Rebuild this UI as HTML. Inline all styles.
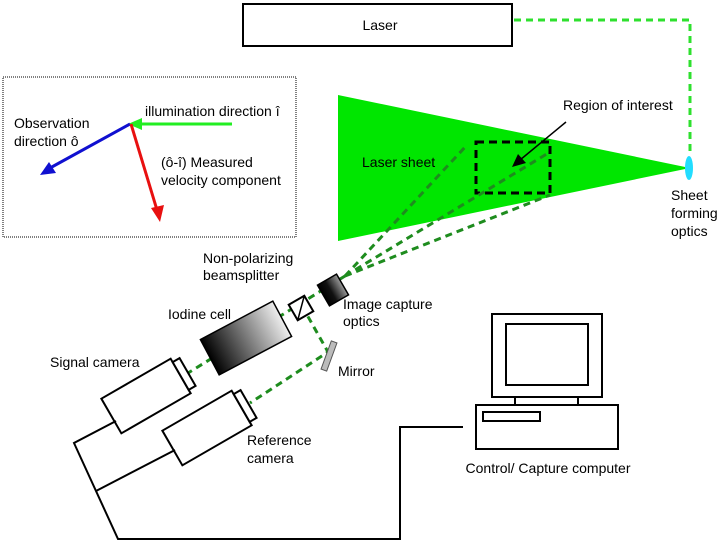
<!DOCTYPE html>
<html><head><meta charset="utf-8"><style>
html,body{margin:0;padding:0;background:#fff;}
svg{display:block;font-family:"Liberation Sans",sans-serif;font-size:14px;}
</style></head><body>
<svg width="720" height="542" viewBox="0 0 720 542" xmlns="http://www.w3.org/2000/svg">
<defs>
<linearGradient id="ic" x1="0" y1="0" x2="1" y2="0"><stop offset="0" stop-color="#000"/><stop offset="1" stop-color="#eee"/></linearGradient>
<linearGradient id="io" x1="0" y1="0" x2="1" y2="0"><stop offset="0" stop-color="#000"/><stop offset="0.4" stop-color="#111"/><stop offset="1" stop-color="#999"/></linearGradient>
</defs>
<rect x="243" y="4" width="269" height="42" fill="#fff" stroke="#000" stroke-width="2"/>
<text x="380" y="30" text-anchor="middle">Laser</text>
<polyline points="514,20 690,20 690,156" fill="none" stroke="#2ee02e" stroke-width="3" stroke-dasharray="7,5"/>
<polygon points="338,95 338,241 690,168" fill="#00e600"/>
<ellipse cx="689" cy="168" rx="4" ry="12" fill="#22ddff"/>
<text x="362" y="167">Laser sheet</text>
<text x="563" y="110">Region of interest</text>
<text x="671" y="200">Sheet</text>
<text x="671" y="218">forming</text>
<text x="671" y="236">optics</text>
<rect x="476" y="142" width="74" height="51" fill="none" stroke="#000" stroke-width="3" stroke-dasharray="8,5"/>
<line x1="566" y1="122" x2="520" y2="160" stroke="#000" stroke-width="1.5"/>
<polygon points="512,167 518,154 526,163" fill="#000"/>
<g stroke="#1e8c1e" stroke-width="3" stroke-dasharray="7,5" fill="none">
<line x1="345" y1="276" x2="467" y2="145"/>
<line x1="345" y1="276" x2="550" y2="152"/>
<line x1="345" y1="276" x2="550" y2="195"/>
<line x1="345" y1="276" x2="188" y2="373"/>
<polyline points="302,306 328,352 250,403"/>
</g>
<g transform="translate(333,290) rotate(-30)"><rect x="-11" y="-12" width="22" height="24" fill="url(#io)" stroke="#000" stroke-width="1.5"/></g>
<g transform="translate(301,308) rotate(-30)"><rect x="-9" y="-9" width="18" height="18" fill="#fff" stroke="#000" stroke-width="2"/><line x1="-9" y1="9" x2="9" y2="-9" stroke="#000" stroke-width="1.5"/></g>
<g transform="translate(246,338) rotate(-28)"><rect x="-41" y="-20" width="82" height="40" fill="url(#ic)" stroke="#000" stroke-width="1.5"/></g>
<g transform="translate(329,356) rotate(20)"><rect x="-3" y="-15" width="6" height="30" fill="#bbb" stroke="#555" stroke-width="1"/></g>
<g transform="translate(146,396) rotate(-30)" fill="#fff" stroke="#000" stroke-width="2"><rect x="-40" y="-20" width="80" height="40"/><rect x="40" y="-16" width="8" height="32"/></g>
<g transform="translate(207,428) rotate(-30)" fill="#fff" stroke="#000" stroke-width="2"><rect x="-40" y="-20" width="80" height="40"/><rect x="40" y="-16" width="8" height="32"/></g>
<polyline points="116,421 74,443 118,539 400,539 400,427 463,427" fill="none" stroke="#000" stroke-width="2"/>
<line x1="175" y1="450" x2="96" y2="491" stroke="#000" stroke-width="2"/>
<g fill="#fff" stroke="#000" stroke-width="2">
<rect x="492" y="314" width="110" height="83"/>
<rect x="506" y="324" width="82" height="61"/>
<rect x="515" y="397" width="63" height="8"/>
<rect x="476" y="405" width="142" height="44"/>
<rect x="483" y="412" width="57" height="9"/>
</g>
<text x="548" y="473" text-anchor="middle">Control/ Capture computer</text>
<text x="203" y="263">Non-polarizing</text>
<text x="203" y="280">beamsplitter</text>
<text x="168" y="319">Iodine cell</text>
<text x="343" y="309">Image capture</text>
<text x="343" y="326">optics</text>
<text x="50" y="367">Signal camera</text>
<text x="338" y="376">Mirror</text>
<text x="247" y="445">Reference</text>
<text x="247" y="463">camera</text>
<rect x="3" y="77" width="293" height="160" fill="none" stroke="#000" stroke-width="1" stroke-dasharray="1,1"/>
<text x="145" y="116">illumination direction î</text>
<text x="14" y="128">Observation</text>
<text x="14" y="146">direction ô</text>
<text x="161" y="167">(ô-î) Measured</text>
<text x="161" y="185">velocity component</text>
<line x1="232" y1="124" x2="140" y2="124" stroke="#22ee22" stroke-width="3"/>
<polygon points="128,124 142,118 142,130" fill="#22ee22"/>
<line x1="130" y1="124" x2="50" y2="168" stroke="#1010d0" stroke-width="3"/>
<polygon points="40,175 49,162 56,173" fill="#1010d0"/>
<line x1="131" y1="124" x2="157" y2="210" stroke="#e81010" stroke-width="3"/>
<polygon points="160,222 151,208 164,205" fill="#e81010"/>
</svg>
</body></html>
